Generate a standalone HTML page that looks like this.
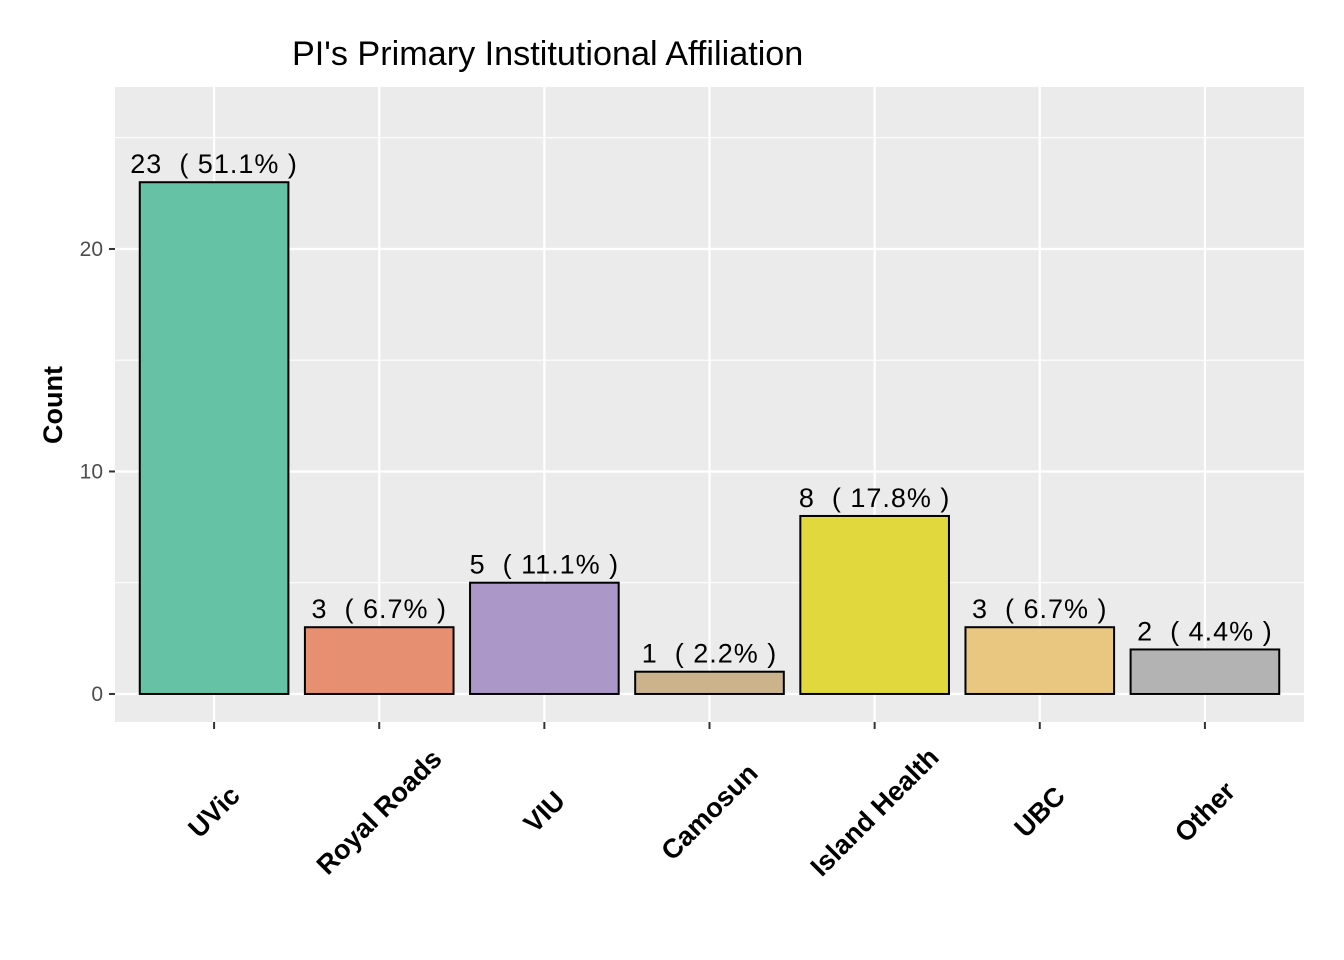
<!DOCTYPE html>
<html><head><meta charset="utf-8"><style>
html,body{margin:0;padding:0;background:#fff;}
svg{display:block;font-family:"Liberation Sans",Arial,sans-serif;}
.pre{white-space:pre;letter-spacing:1px;}
</style></head><body>
<svg id="chart" width="1344" height="960" viewBox="0 0 1344 960">
<rect x="0" y="0" width="1344" height="960" fill="#fff"/>
<text x="292" y="65" font-size="34.2" fill="#000">PI's Primary Institutional Affiliation</text>
<rect x="115" y="87" width="1189" height="635" fill="#ebebeb"/>
<g id="grid"></g>
<g id="bars"></g>
<g id="axes"></g>
<text transform="translate(62,405) rotate(-90)" text-anchor="middle" font-size="27" font-weight="bold" fill="#000">Count</text>
</svg>
<script>
const categories = ["UVic","Royal Roads","VIU","Camosun","Island Health","UBC","Other"];
const counts = [23,3,5,1,8,3,2];
const percents = ["51.1%","6.7%","11.1%","2.2%","17.8%","6.7%","4.4%"];
const colors = ["#66c2a5","#e78f71","#ab98c8","#ccb38c","#e0d83d","#e9c781","#b3b3b3"];
const yTicks = [0,10,20];
const yMinor = [5,15,25];

const NS="http://www.w3.org/2000/svg";
const px0=115, px1=1304, py0=87, py1=722;
const yMin=-1.26, yMax=27.28;
const xMin=0.4, xMax=categories.length+0.6;
function sx(v){return px0+(v-xMin)/(xMax-xMin)*(px1-px0);}
function sy(v){return py1-(v-yMin)/(yMax-yMin)*(py1-py0);}
function mk(tag,attrs,parent){const e=document.createElementNS(NS,tag);for(const k in attrs)e.setAttribute(k,attrs[k]);parent.appendChild(e);return e;}
const grid=document.getElementById('grid'), bars=document.getElementById('bars'), axes=document.getElementById('axes');
const unit=(px1-px0)/(xMax-xMin);

yMinor.forEach(v=>{const l=mk('line',{x1:px0,x2:px1,y1:sy(v),y2:sy(v),stroke:'#fff','stroke-width':1.1},grid);

});
yTicks.forEach(v=>{const l=mk('line',{x1:px0,x2:px1,y1:sy(v),y2:sy(v),stroke:'#fff','stroke-width':2.2},grid);


const t=mk('line',{x1:px0-6,x2:px0,y1:sy(v),y2:sy(v),stroke:'#333','stroke-width':2},axes);


const tx=mk('text',{x:px0-12,y:sy(v)+7,'text-anchor':'end','font-size':21,fill:'#4d4d4d'},axes);
tx.textContent=v;

});

categories.forEach((c,i)=>{const cx=sx(i+1);
const g=mk('line',{x1:cx,x2:cx,y1:py0,y2:py1,stroke:'#fff','stroke-width':2.2},grid);


const w=unit*0.9;
const r=mk('rect',{x:cx-w/2,y:sy(counts[i]),width:w,height:sy(0)-sy(counts[i]),fill:colors[i],stroke:'#000','stroke-width':2},bars);


const lb=mk('text',{x:cx,y:sy(counts[i])-9,'text-anchor':'middle','font-size':27,fill:'#000','class':'pre'},bars);
lb.textContent=counts[i]+"  ( "+percents[i]+" )";


const t=mk('line',{x1:cx,x2:cx,y1:py1,y2:py1+7,stroke:'#333','stroke-width':2},axes);


const tx=mk('text',{x:0,y:0,'text-anchor':'middle','dominant-baseline':'central','font-size':27,'font-weight':'bold',fill:'#000',transform:'translate('+cx+',812) rotate(-45)'},axes);
tx.textContent=c;

});
</script>
</body></html>
